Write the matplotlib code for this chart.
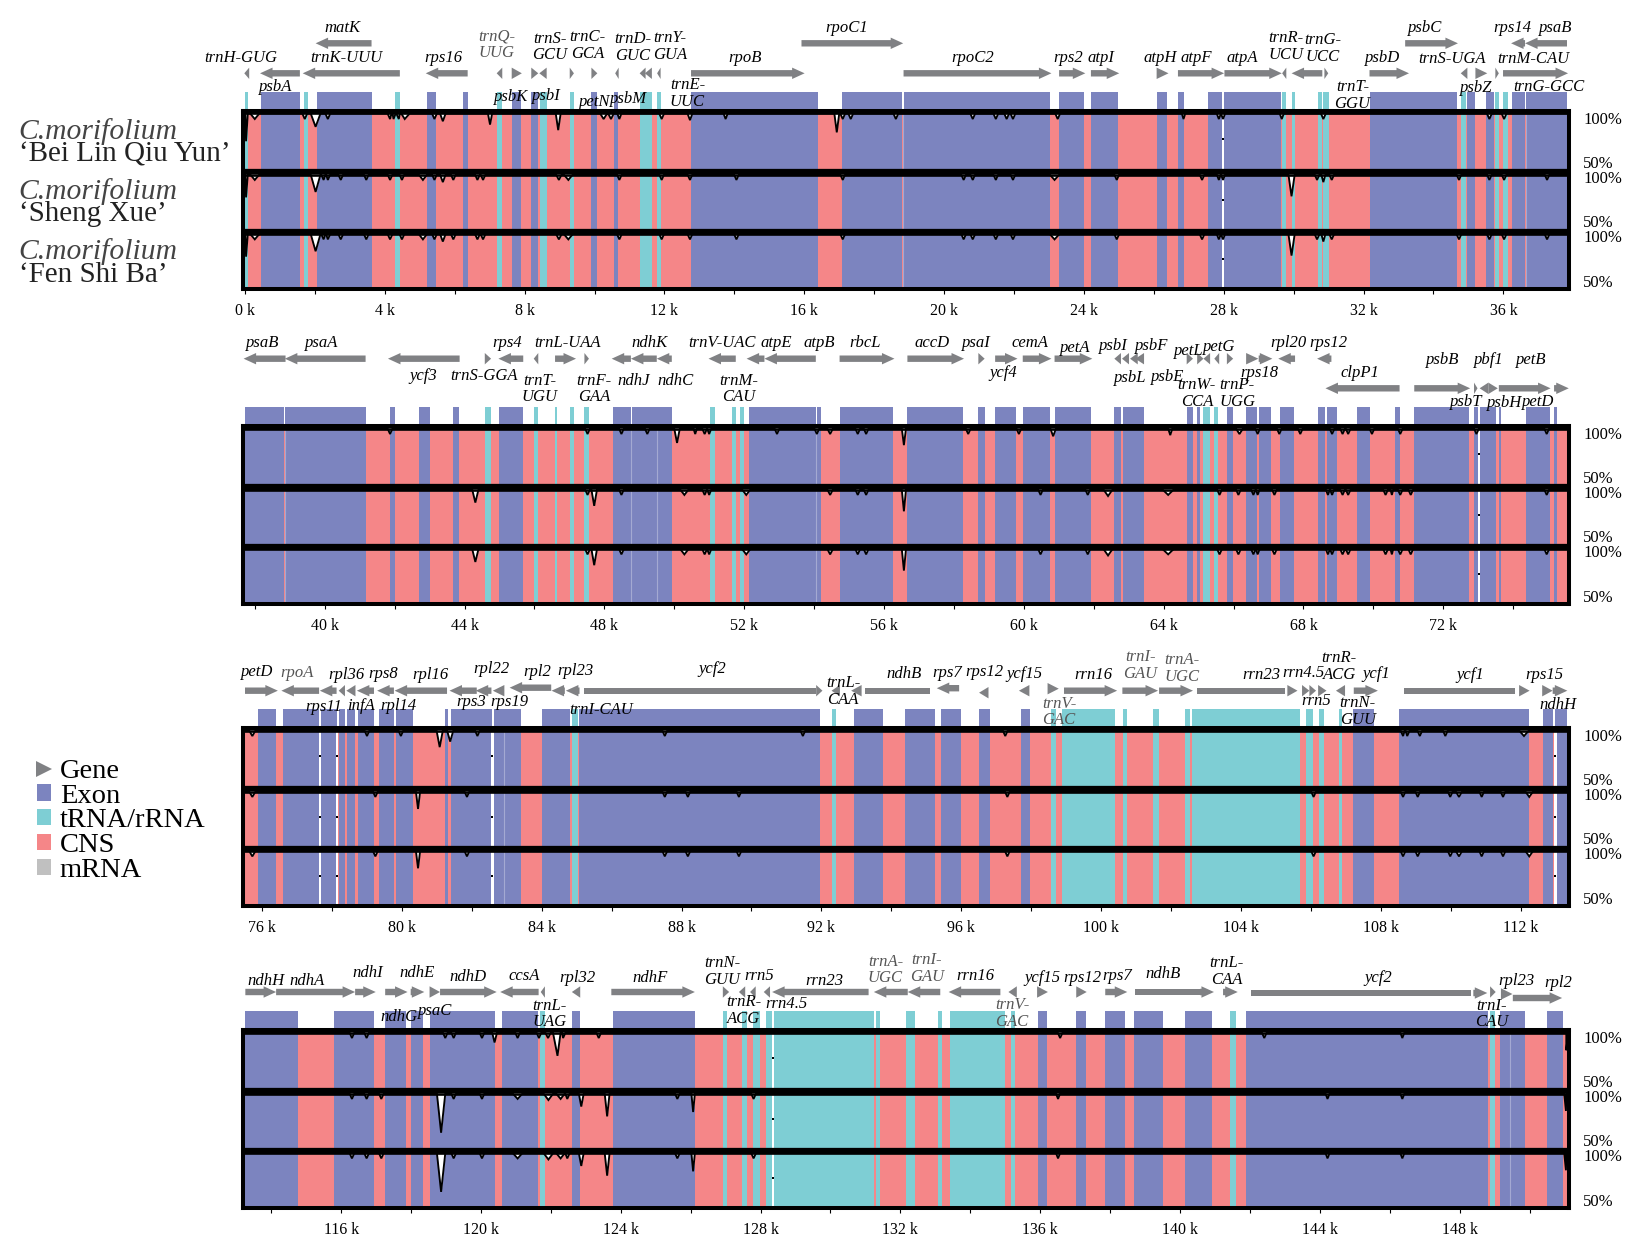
import matplotlib
matplotlib.use("Agg")
import matplotlib.pyplot as plt
from matplotlib.patches import Polygon, Patch
from matplotlib.lines import Line2D
import numpy as np

plt.rcParams['font.family'] = ['Liberation Serif', 'DejaVu Serif']

# ---------- DATA (kb along the genome, identity in %) ----------
row_start = [0.0, 37.72, 75.51, 113.25]
row_span = 37.82

species = ["C.morifolium", "C.morifolium", "C.morifolium"]
cultivars = ["\u2018Bei Lin Qiu Yun\u2019", "\u2018Sheng Xue\u2019", "\u2018Fen Shi Ba\u2019"]
legend_labels = ["Gene", "Exon", "tRNA/rRNA", "CNS", "mRNA"]

exon_start = [0.46, 2.05, 5.21, 6.23, 7.65, 8.19, 9.91, 10.57, 12.76, 17.07, 18.84, 23.29, 24.20, 26.08, 26.69, 27.54,
              28.02, 32.17, 34.97, 35.50, 36.25, 36.64,
              37.71, 38.86, 41.86, 42.70, 43.67, 45.0, 48.24, 48.78, 49.51, 52.13, 54.07, 54.73, 56.67, 58.70, 59.18,
              59.97, 60.88, 62.59, 62.84, 64.66, 64.96, 65.81, 66.36, 66.72, 67.34, 68.42, 68.66, 69.52, 70.62, 71.17,
              72.88, 73.04, 73.60, 74.38, 75.17,
              75.87, 76.60, 77.68, 78.19, 78.43, 78.73, 79.34, 79.82, 81.23, 81.39, 82.62, 82.93, 84.01, 85.06, 92.93,
              94.38, 95.42, 96.51, 97.72, 107.22, 108.51, 112.64, 113.0,
              113.24, 115.81, 117.26, 117.99, 118.53, 120.61, 122.60, 123.77, 135.94, 137.03, 137.84, 138.68, 140.13,
              141.90, 149.15, 149.44, 150.49]
exon_end = [1.57, 3.62, 5.45, 6.37, 7.89, 8.39, 10.06, 10.68, 16.40, 18.80, 23.02, 23.99, 24.97, 26.38, 26.86, 27.96,
            29.63, 34.66, 35.20, 35.74, 36.63, 37.82,
            38.85, 41.17, 42.02, 43.0, 43.85, 45.68, 48.76, 49.50, 49.93, 54.05, 54.20, 56.27, 58.26, 58.88, 59.77,
            60.76, 61.93, 62.78, 63.44, 64.84, 65.05, 65.99, 66.68, 67.08, 67.74, 68.61, 68.96, 69.90, 70.75, 72.74,
            72.99, 73.52, 73.66, 75.05, 75.25,
            76.40, 77.63, 78.14, 78.37, 78.67, 79.20, 79.77, 80.31, 81.32, 82.57, 82.92, 83.41, 84.82, 91.95, 93.77,
            95.24, 96.0, 96.81, 97.96, 107.82, 112.25, 112.92, 113.30,
            114.76, 116.94, 117.86, 118.35, 120.40, 121.63, 122.84, 126.12, 136.18, 137.32, 138.43, 139.52, 140.91,
            148.82, 149.43, 149.87, 150.96]
rna_start = [-0.03, 1.69, 4.30, 7.20, 8.45, 9.29, 11.29, 11.79, 29.67, 29.94, 30.69, 30.85, 34.78, 35.77, 35.99,
             44.58, 45.98, 46.59, 47.01, 47.43, 51.02, 51.64, 51.88, 65.14, 65.45,
             84.87, 92.30, 98.58, 98.88, 100.64, 101.50, 102.41, 102.59, 105.87, 106.23, 106.80,
             121.69, 126.93, 127.47, 127.77, 128.16, 128.39, 131.31, 132.15, 133.08, 133.42, 135.15, 141.42, 148.88]
rna_end = [0.10, 1.80, 4.42, 7.34, 8.63, 9.41, 11.65, 11.89, 29.78, 30.03, 30.81, 31.0, 34.94, 35.87, 36.13,
           44.76, 46.11, 46.65, 47.13, 47.56, 51.16, 51.76, 52.0, 65.33, 65.56,
           85.05, 92.43, 98.71, 100.40, 100.75, 101.66, 102.54, 105.70, 106.06, 106.38, 106.90,
           121.83, 127.05, 127.61, 127.97, 128.33, 131.25, 131.43, 132.42, 133.20, 134.98, 135.28, 141.60, 149.0]
gap_center = [27.99, 73.01, 77.65, 78.14, 82.59, 113.0, 128.36]
seam_center = [18.82, 36.635, 38.855, 48.77, 49.505, 82.925, 149.435, 54.06]

# identity dips: (position kb, lowest identity %, half width kb)
dips_r1_t1 = [(0.03, 75, .05), (0.28, 95, .13), (1.71, 95, .07), (2.02, 88, .14), (2.37, 95, .07), (4.15, 95, .07),
              (4.25, 95, .06), (4.40, 95, .07), (4.57, 95, .14), (5.42, 95, .07), (5.66, 93, .08), (7.01, 90, .06),
              (8.96, 85, .07), (10.26, 95, .1), (10.47, 95, .08), (10.71, 95, .06), (11.92, 95, .07), (12.73, 94, .07),
              (13.75, 95, .06), (16.93, 83, .07), (17.10, 95, .07), (17.33, 95, .07), (18.62, 95, .07), (20.82, 95, .07),
              (21.48, 95, .07), (21.79, 95, .07), (21.97, 95, .07), (23.25, 95, .07), (26.85, 95, .05), (27.86, 95, .06),
              (27.98, 95, .06), (29.66, 95, .06), (30.85, 95, .07), (35.60, 95, .07), (36.02, 95, .07)]
dips_r1_t2 = [(0.03, 79, .05), (0.28, 95, .13), (2.02, 84, .14), (2.25, 95, .07), (2.37, 95, .07), (2.74, 95, .07),
              (3.47, 95, .07), (4.15, 95, .07), (4.49, 95, .07), (5.09, 95, .12), (5.42, 95, .07), (5.66, 93, .08),
              (5.96, 95, .07), (6.65, 95, .07), (6.81, 95, .07), (8.98, 95, .08), (9.25, 95, .13), (10.71, 95, .07),
              (11.92, 95, .07), (12.73, 95, .07), (14.06, 95, .07), (17.10, 95, .07), (20.56, 95, .07), (20.82, 95, .07),
              (21.48, 95, .07), (21.97, 95, .07), (23.16, 95, .14), (24.94, 95, .07), (27.38, 95, .07), (27.86, 95, .06),
              (27.98, 95, .06), (29.94, 80, .09), (30.67, 95, .07), (30.85, 93, .06), (31.09, 95, .07), (34.73, 95, .07),
              (35.60, 95, .07), (36.02, 95, .07), (37.25, 95, .07)]
dips_r2_t1 = [(41.87, 95, .07), (47.52, 95, .07), (48.49, 95, .07), (49.23, 95, .07), (50.08, 87, .08), (50.60, 95, .05),
              (50.87, 95, .07), (51.0, 95, .06), (52.94, 95, .07), (54.08, 95, .07), (54.46, 95, .08), (55.25, 95, .07),
              (55.49, 95, .07), (56.57, 85, .06), (58.41, 95, .07), (59.86, 95, .07), (60.84, 93, .08), (64.19, 94, .06),
              (66.17, 95, .1), (66.69, 95, .07), (67.31, 95, .07), (67.91, 95, .07), (68.82, 95, .07), (69.12, 95, .07),
              (69.28, 95, .07), (69.96, 95, .07), (70.77, 95, .07), (72.95, 95, .07), (74.96, 95, .07)]
dips_r2_t2 = [(44.31, 88, .09), (47.52, 95, .07), (47.71, 85, .08), (48.49, 95, .07), (50.29, 95, .12), (50.87, 95, .07),
              (51.0, 95, .06), (52.06, 95, .12), (54.46, 95, .08), (55.25, 95, .07), (55.49, 95, .07), (56.57, 80, .06),
              (60.48, 95, .07), (61.83, 95, .07), (62.41, 94, .13), (64.13, 95, .16), (65.60, 95, .07), (66.14, 95, .07),
              (66.57, 95, .07), (66.69, 95, .06), (67.17, 95, .07), (68.70, 95, .06), (68.82, 95, .06), (69.12, 95, .07),
              (69.28, 95, .07), (70.35, 95, .07), (70.53, 95, .04), (70.77, 95, .07), (71.07, 95, .07), (74.96, 95, .07)]
dips_r3_t1 = [(75.72, 95, .09), (79.0, 95, .07), (79.97, 95, .07), (81.08, 85, .09), (81.38, 90, .09), (82.16, 95, .07),
              (87.52, 95, .07), (91.47, 95, .07), (97.26, 95, .07), (108.64, 95, .07), (108.76, 95, .07), (109.12, 95, .07),
              (109.85, 95, .07), (112.10, 95, .14)]
dips_r3_t2 = [(75.72, 95, .09), (79.24, 95, .07), (80.46, 84, .06), (81.86, 95, .07), (87.52, 95, .07), (88.18, 95, .07),
              (89.64, 95, .07), (97.32, 95, .07), (106.08, 95, .07), (108.64, 95, .07), (109.06, 95, .07), (109.99, 95, .07),
              (110.24, 95, .09), (110.89, 95, .07), (111.50, 95, .07), (112.25, 95, .11)]
dips_r4_t1 = [(116.31, 95, .07), (116.73, 95, .07), (118.98, 95, .07), (119.22, 95, .07), (120.03, 95, .07), (120.39, 91, .07),
              (121.05, 95, .07), (121.66, 95, .07), (121.92, 95, .08), (122.19, 79, .13), (122.35, 95, .07), (123.37, 95, .07),
              (136.57, 95, .07), (142.41, 95, .07), (146.36, 95, .06), (151.05, 84, .05)]
dips_r4_t2 = [(116.31, 95, .07), (116.73, 95, .07), (117.15, 95, .07), (118.86, 64, .12), (119.22, 95, .07), (120.03, 95, .07),
              (121.05, 95, .14), (121.93, 94, .14), (122.28, 95, .13), (122.47, 95, .07), (122.87, 88, .07), (123.61, 79, .07),
              (125.62, 95, .07), (126.07, 83, .05), (127.80, 95, .07), (136.51, 95, .06), (144.22, 95, .06), (146.36, 95, .06),
              (151.04, 84, .05)]
row_dips = [(dips_r1_t1, dips_r1_t2, dips_r1_t2), (dips_r2_t1, dips_r2_t2, dips_r2_t2),
            (dips_r3_t1, dips_r3_t2, dips_r3_t2), (dips_r4_t1, dips_r4_t2, dips_r4_t2)]

# gene arrows: strand +1 forward, -1 reverse, 0 body without head
r1_genes = ["trnH-GUG", "psbA", "trnK-UUU", "matK", "rps16", "trnQ-UUG", "psbK", "psbI", "trnS-GCU", "trnC-GCA", "petN", "psbM",
            "trnD-GUC", "trnY-GUA", "trnE-UUC", "rpoB", "rpoC1", "rpoC2", "rps2", "atpI", "atpH", "atpF", "atpA", "trnR-UCU",
            "trnG-UCC", "trnT-GGU", "psbD", "psbC", "trnS-UGA", "psbZ", "trnG-GCC", "trnM-CAU", "rps14", "psaB"]
r1_start = [-0.02, 0.43, 1.65, 2.02, 5.17, 7.20, 7.63, 8.19, 8.42, 9.29, 9.91, 10.59, 11.29, 11.44, 11.79, 12.76, 15.92, 18.84,
            23.29, 24.20, 26.08, 26.69, 28.02, 29.67, 29.94, 30.88, 32.17, 33.19, 34.78, 35.20, 35.77, 35.99, 36.22, 36.62]
r1_end = [0.12, 1.57, 4.43, 3.62, 6.37, 7.36, 7.92, 8.39, 8.63, 9.41, 10.08, 10.69, 11.46, 11.64, 11.89, 16.01, 18.83, 23.07,
          24.04, 25.01, 26.42, 28.01, 29.66, 29.79, 30.82, 30.99, 33.30, 34.70, 34.97, 35.54, 35.87, 37.85, 36.62, 37.82]
r1_strand = [-1, -1, -1, -1, -1, -1, 1, 1, -1, 1, 1, -1, -1, -1, -1, 1, 1, 1, 1, 1, 1, 1, 1, -1, -1, 1, 1, 1, -1, 1, 1, 1, -1, -1]

r2_genes = ["psaB", "psaA", "ycf3", "trnS-GGA", "rps4", "trnT-UGU", "trnL-UAA", "trnF-GAA", "ndhJ", "ndhK", "ndhC", "trnV-UAC",
            "atpE", "atpB", "rbcL", "accD", "psaI", "ycf4", "cemA", "petA", "psbI", "psbL", "psbF", "psbE", "petL", "petG", "trnW-CCA",
            "trnP-UGG", "psaJ", "rps18", "rpl33", "rpl20", "rps12", "clpP1", "psbB", "psbT", "pbf1", "psbH", "petB", "petD"]
r2_start = [37.68, 38.86, 41.81, 44.58, 44.97, 45.98, 46.59, 47.43, 48.21, 48.76, 49.50, 50.98, 52.07, 52.58, 54.73, 56.67, 58.70,
            59.18, 59.97, 60.88, 62.59, 62.81, 63.04, 63.19, 64.66, 64.96, 65.14, 65.45, 65.81, 66.36, 66.72, 67.28, 68.39, 68.63,
            71.17, 72.88, 73.04, 73.29, 73.59, 75.17]
r2_end = [38.88, 41.17, 43.86, 44.76, 45.68, 46.11, 47.19, 47.56, 48.76, 49.50, 49.93, 51.76, 52.58, 54.05, 56.30, 58.29, 58.88,
          59.82, 60.79, 61.96, 62.78, 63.01, 63.26, 63.44, 64.84, 65.14, 65.33, 65.59, 65.99, 66.71, 67.11, 67.76, 68.80, 70.75,
          72.77, 72.98, 73.29, 73.56, 75.07, 75.59]
r2_strand = [-1, -1, -1, 1, -1, -1, 1, 1, -1, -1, -1, -1, -1, -1, 1, 1, 1, 1, 1, 1, -1, -1, -1, -1, 1, 1, -1, -1, 1, 1, 1, -1, -1, -1,
             1, 1, -1, 1, 1, 1]

r3_genes = ["petD", "rpoA", "rps11", "rpl36", "infA", "rps8", "rpl14", "rpl16", "rps3", "rpl22", "rps19", "rpl2", "rpl23", "trnI-CAU",
            "ycf2", "ycf2", "trnL-CAA", "ndhB", "ndhB", "rps7", "rps12", "ycf15", "trnV-GAC", "rrn16", "trnI-GAU", "trnA-UGC",
            "rrn23", "rrn23", "rrn4.5", "rrn4.5", "rrn5", "trnR-ACG", "ycf1", "ycf1", "ycf1", "rps15", "ndhH"]
r3_start = [75.51, 76.55, 77.65, 78.19, 78.41, 78.71, 79.29, 79.79, 81.36, 82.11, 82.60, 83.08, 84.28, 84.69, 85.20, 91.85, 92.29,
            92.85, 93.24, 95.30, 96.51, 97.65, 98.47, 98.94, 100.61, 101.66, 102.74, 105.33, 105.75, 105.96, 106.21, 106.72,
            107.23, 108.67, 111.96, 112.62, 112.92]
r3_end = [76.45, 77.63, 78.13, 78.37, 78.67, 79.20, 79.77, 81.29, 82.14, 82.56, 82.93, 84.27, 84.66, 85.08, 91.85, 92.03, 92.53,
          93.15, 95.10, 95.94, 96.78, 97.95, 98.79, 100.46, 101.63, 102.63, 105.26, 105.62, 105.96, 106.15, 106.45, 106.98,
          107.92, 111.85, 112.26, 112.92, 113.34]
r3_strand = [1, -1, -1, -1, -1, -1, -1, -1, -1, -1, -1, -1, -1, -1, 0, 1, -1, -1, 0, -1, -1, -1, 1, 1, 1, 1, 0, 1, 1, 1, 1, -1, 1, 0, 1, 1, 1]

r4_genes = ["ndhH", "ndhA", "ndhI", "ndhG", "ndhE", "psaC", "ndhD", "ccsA", "trnL-UAG", "rpl32", "ndhF", "trnN-GUU", "trnR-ACG", "rrn5",
            "rrn4.5", "rrn23", "trnA-UGC", "trnI-GAU", "rrn16", "trnV-GAC", "ycf15", "rps12", "rps7", "ndhB", "ndhB", "trnL-CAA",
            "ycf2", "ycf2", "trnI-CAU", "rpl23", "rpl2"]
r4_start = [113.26, 114.14, 116.40, 117.26, 117.99, 118.53, 118.83, 120.55, 121.71, 122.60, 123.73, 126.92, 127.38, 127.70, 128.09,
            128.33, 131.24, 132.21, 133.38, 135.09, 135.91, 137.03, 137.86, 138.70, 140.57, 141.23, 142.04, 148.39, 148.87, 149.18, 149.52]
r4_end = [114.14, 116.40, 116.99, 117.90, 118.38, 118.83, 120.45, 121.65, 121.83, 122.84, 126.12, 127.10, 127.56, 127.86, 128.27,
          131.09, 132.21, 133.14, 134.86, 135.33, 136.22, 137.33, 138.49, 140.57, 140.97, 141.65, 148.31, 148.79, 149.03, 149.51, 150.93]
r4_strand = [1, 1, 1, 1, 1, 1, 1, -1, -1, -1, 1, 1, -1, -1, -1, -1, -1, -1, -1, -1, 1, 1, 1, 0, 1, 1, 0, 1, 1, 1, 1]

r1_labels = ["trnH-GUG", "psbA", "matK", "trnK-UUU", "rps16", "trnQ-\nUUG", "psbK", "trnS-\nGCU", "psbI", "trnC-\nGCA", "petN", "psbM",
             "trnD-\nGUC", "trnY-\nGUA", "trnE-\nUUC", "rpoB", "rpoC1", "rpoC2", "rps2", "atpI", "atpH", "atpF", "atpA", "trnR-\nUCU",
             "trnG-\nUCC", "trnT-\nGGU", "psbD", "psbC", "trnS-UGA", "psbZ", "trnM-CAU", "trnG-GCC", "rps14", "psaB"]
r2_labels = ["psaB", "psaA", "ycf3", "trnS-GGA", "rps4", "trnT-\nUGU", "trnL-UAA", "trnF-\nGAA", "ndhJ", "ndhK", "ndhC", "trnV-UAC",
             "trnM-\nCAU", "atpE", "atpB", "rbcL", "accD", "psaI", "ycf4", "cemA", "petA", "psbI", "psbL", "psbF", "psbE", "petL", "petG",
             "trnW-\nCCA", "trnP-\nUGG", "rps18", "rpl20", "rps12", "clpP1", "psbB", "psbT", "pbf1", "psbH", "petB", "petD"]
r3_labels = ["petD", "rpoA", "rps11", "rpl36", "infA", "rps8", "rpl14", "rpl16", "rps3", "rpl22", "rps19", "rpl2", "rpl23", "trnI-CAU",
             "ycf2", "trnL-\nCAA", "ndhB", "rps7", "rps12", "ycf15", "trnV-\nGAC", "rrn16", "trnI-\nGAU", "trnA-\nUGC", "rrn23", "rrn4.5",
             "rrn5", "trnR-\nACG", "ycf1", "trnN-\nGUU", "ycf1", "rps15", "ndhH"]
r4_labels = ["ndhH", "ndhA", "ndhI", "ndhG", "ndhE", "psaC", "ndhD", "ccsA", "trnL-\nUAG", "rpl32", "ndhF", "trnN-\nGUU", "trnR-\nACG",
             "rrn5", "rrn4.5", "rrn23", "trnA-\nUGC", "trnI-\nGAU", "rrn16", "trnV-\nGAC", "ycf15", "rps12", "rps7", "ndhB", "trnL-\nCAA",
             "ycf2", "trnI-\nCAU", "rpl23", "rpl2"]

# ---------- LAYOUT (pixels) ----------
W, H = 1642, 1249
L, R = 245.0, 1567.0
PX_PER_KB = (R - L) / row_span
FRAME_TOP = [109, 424, 726, 1028]
STRIP_H = 17
ARROW_Y = [73.3, 358.7, 690.7, 992.0]
GENE_DY = [{"matK": -30, "rpoC1": -30, "psbC": -30, "rps14": -30, "psaB": -30},
           {"clpP1": 29.6, "psbB": 29.6, "psbT": 29.6, "pbf1": 29.6, "psbH": 29.6, "petB": 29.6, "petD": 29.6},
           {"rpl2": -3, "rps7": -2.5, "rps12": 2, "trnV-GAC": -2},
           {"rpl2": 6, "ycf2": 1, "rpl23": 2}]
ZX = 1.91  # label x positions are given on a 1.91x scale
CROP_Y0 = [0, 310, 620, 930]
P = 1568
r1_lab_pos = [(459, 175), (527, 262), (655, 85), (662, 175), (847, 175), (948, 135), (977, 290), (1050, 141), (1043, 288),
              (1122, 137), (1135, 305), (1200, 297), (1208, 143), (1280, 140), (1313, 280), (1423, 175), (P+50, 85), (P+290, 175),
              (P+472, 175), (P+535, 175), (P+648, 175), (P+716, 175), (P+804, 175), (P+888, 140), (P+958, 145), (P+1015, 287),
              (P+1072, 175), (P+1155, 85), (P+1205, 177), (P+1252, 263), (P+1360, 177), (P+1390, 262), (P+1321, 85), (P+1404, 85)]
r2_lab_pos = [(502, 100), (615, 100), (808, 197), (925, 197), (969, 100), (1030, 237), (1084, 100), (1135, 237), (1210, 212),
              (1241, 100), (1290, 212), (1380, 100), (1411, 237), (1482, 100), (1564, 100), (P+85, 100), (P+213, 100), (P+297, 100),
              (P+348, 190), (P+400, 100), (P+485, 113), (P+558, 108), (P+590, 203), (P+632, 108), (P+662, 202), (P+703, 122), (P+760, 112),
              (P+718, 250), (P+795, 250), (P+838, 188), (P+892, 100), (P+969, 100), (P+1030, 188), (P+1188, 150), (P+1232, 277),
              (P+1275, 150), (P+1305, 280), (P+1357, 150), (P+1370, 277)]
r3_lab_pos = [(492, 155), (568, 158), (618, 262), (662, 165), (690, 258), (732, 163), (762, 258), (822, 165), (900, 247), (938, 147),
              (972, 247), (1027, 155), (1100, 153), (1148, 270), (1361, 147), (P+42, 214), (P+158, 163), (P+242, 160), (P+312, 155),
              (P+388, 162), (P+455, 276), (P+520, 165), (P+610, 137), (P+690, 145), (P+842, 165), (P+922, 160), (P+945, 242),
              (P+990, 140), (P+1060, 163), (P+1025, 275), (P+1240, 165), (P+1382, 165), (P+1407, 255)]
r4_lab_pos = [(508, 153), (586, 153), (702, 128), (762, 260), (796, 128), (832, 243), (894, 140), (1002, 138), (1050, 252), (1103, 145),
              (1241, 145), (1380, 125), (1420, 242), (1451, 137), (1503, 222), (1575, 153), (P+123, 120), (P+202, 115), (P+295, 138),
              (P+365, 250), (P+423, 143), (P+500, 143), (P+566, 138), (P+654, 133), (P+775, 125), (P+1064, 145), (P+1281, 252),
              (P+1328, 153), (P+1408, 158)]
LIGHT_LABELS = {"trnQ-\nUUG", "rpoA", "trnI-\nGAU", "trnA-\nUGC", "trnV-\nGAC"}

TRACK_TOP = [4.5, 65.5, 125.0]
TRACK_BOT = [60.0, 120.0, 179.0]
DIVIDERS = [62.0, 122.0]
PCT_OFFS = [11, 55, 70, 114, 129, 174]
PCT_TEXT = ["100%", "50%", "100%", "50%", "100%", "50%"]
SPECIES_Y = [(132, 154), (192, 214), (252, 275)]

C_EXON, C_RNA, C_CNS, C_GENE, C_MRNA = "#7C84BF", "#7ECED4", "#F58688", "#808184", "#C0C0C0"
C_SEAM = "#A4A9D2"
BODY, HEAD, HEAD_KB = 3.2, 5.7, 12.5 / PX_PER_KB

fig = plt.figure(figsize=(W / 100, H / 100), dpi=100, facecolor="white")


def ax_px(l, t, r, b, **kw):
    return fig.add_axes([l / W, 1 - b / H, (r - l) / W, (b - t) / H], **kw)


def txt(x, y, s, **kw):
    return fig.text(x / W, 1 - y / H, s, **kw)


def spans(ax, starts, ends, yr, color):
    ax.broken_barh([(s, e - s) for s, e in zip(starts, ends)], yr, facecolors=color, edgecolors="none")


def gene_poly(s, e, strand, y):
    hl = min(HEAD_KB, e - s)
    if strand == 0:
        return [(s, y - BODY), (e, y - BODY), (e, y + BODY), (s, y + BODY)]
    if strand > 0:
        n = e - hl
        return [(s, y - BODY), (n, y - BODY), (n, y - HEAD), (e, y), (n, y + HEAD), (n, y + BODY), (s, y + BODY)]
    n = s + hl
    return [(e, y - BODY), (n, y - BODY), (n, y - HEAD), (s, y), (n, y + HEAD), (n, y + BODY), (e, y + BODY)]


def curve(dips, x0, x1):
    pts = [(x0, 100.0), (x1, 100.0)]
    for x, f, w in dips:
        pts += [(x - w, 100.0), (x, float(f)), (x + w, 100.0)]
    pts.sort()
    arr = np.array(pts)
    return arr[:, 0], arr[:, 1]


all_genes = [(r1_genes, r1_start, r1_end, r1_strand), (r2_genes, r2_start, r2_end, r2_strand),
             (r3_genes, r3_start, r3_end, r3_strand), (r4_genes, r4_start, r4_end, r4_strand)]
all_labels = [(r1_labels, r1_lab_pos), (r2_labels, r2_lab_pos), (r3_labels, r3_lab_pos), (r4_labels, r4_lab_pos)]

for i in range(4):
    x0, x1 = row_start[i], row_start[i] + row_span
    top = FRAME_TOP[i]

    # gene arrows + annotation strip
    gax = ax_px(L, top - 75, R, top)
    gax.set_xlim(x0, x1)
    gax.set_ylim(top, top - 75)
    gax.axis("off")
    for nm, s, e, st in zip(*all_genes[i]):
        y = ARROW_Y[i] + GENE_DY[i].get(nm, 0)
        gax.add_patch(Polygon(gene_poly(s, e, st, y), closed=True, fc=C_GENE, ec="none", clip_on=False))
    spans(gax, exon_start, exon_end, (top - STRIP_H, STRIP_H), C_EXON)
    spans(gax, rna_start, rna_end, (top - STRIP_H, STRIP_H), C_RNA)

    # three conservation tracks
    for t in range(3):
        ax = ax_px(L, top + TRACK_TOP[t], R, top + TRACK_BOT[t], facecolor=C_CNS)
        ax.set_xlim(x0, x1)
        ax.set_ylim(50, 100)
        for sp in ax.spines.values():
            sp.set_visible(False)
        ax.set_xticks([])
        ax.set_yticks([])
        spans(ax, exon_start, exon_end, (50, 50), C_EXON)
        spans(ax, rna_start, rna_end, (50, 50), C_RNA)
        for g in seam_center:
            if x0 <= g <= x1:
                ax.axvline(g, color=C_SEAM, lw=0.8)
        for g in gap_center:
            if x0 <= g <= x1:
                ax.axvspan(g - 0.03, g + 0.03, color="white", lw=0)
                ax.plot([g], [77], marker="s", ms=1.8, color="black", mew=0)
        xs, ys = curve(row_dips[i][t], x0 + 0.01, x1 - 0.02)
        ax.fill_between(xs, ys, 100, color="white", lw=0, zorder=4)
        ax.plot(xs, ys, color="black", lw=1.35, zorder=5, clip_on=False, solid_joinstyle="miter")
        ax.plot([x0, x1], [100, 100], color="black", lw=1.9, zorder=5, clip_on=False)

    # frame, dividers, ticks
    pad = 2.0 / PX_PER_KB
    fr = ax_px(L - 2, top + 2, R + 2, top + 180, facecolor="none", zorder=6)
    fr.set_xlim(x0 - pad, x1 + pad)
    fr.set_ylim(178, 0)
    for sp in fr.spines.values():
        sp.set_linewidth(2.9)
    for d in DIVIDERS:
        fr.axhline(d - 2, color="black", lw=3.8)
    first = int(np.ceil(x0 / 4.0)) * 4
    majors = np.arange(first, x1 + 0.01, 4)
    minors = np.arange(int(np.ceil(x0 / 2.0)) * 2, x1 + 0.01, 2)
    fr.set_xticks(majors)
    fr.set_xticklabels(["%d k" % m for m in majors], fontsize=11.5)
    fr.set_xticks([m for m in minors if m not in majors], minor=True)
    fr.set_yticks([])
    fr.tick_params(axis="x", which="both", length=3.5, width=0.8, pad=6.5, direction="out")

    for off, s in zip(PCT_OFFS, PCT_TEXT):
        txt(1583, top + off, s, fontsize=12, va="center", ha="left")

    for s, (zx, zy) in zip(*all_labels[i]):
        txt(zx / ZX, CROP_Y0[i] + zy / 3.0, s, fontsize=12, style="italic", ha="center", va="center",
            linespacing=1.08, color="#555555" if s in LIGHT_LABELS else "black")

for (y1, y2), sp, cv in zip(SPECIES_Y, species, cultivars):
    txt(18.5, y1, sp, fontsize=21.3, style="italic", va="center", ha="left", color="#444444")
    txt(19, y2, cv, fontsize=21, va="center", ha="left", color="#222222")

handles = [Line2D([], [], marker=">", ls="none", color=C_GENE, ms=11, mew=0),
           Patch(fc=C_EXON, ec="none"), Patch(fc=C_RNA, ec="none"), Patch(fc=C_CNS, ec="none"), Patch(fc=C_MRNA, ec="none")]
fig.legend(handles, legend_labels, loc="upper left", bbox_to_anchor=(37 / W, 1 - 759 / H), frameon=False, fontsize=20.5,
           handlelength=0.5, handleheight=0.5, handletextpad=0.3, labelspacing=-0.01, borderpad=0, borderaxespad=0)

fig.savefig("out.png", dpi=100, facecolor="white")
